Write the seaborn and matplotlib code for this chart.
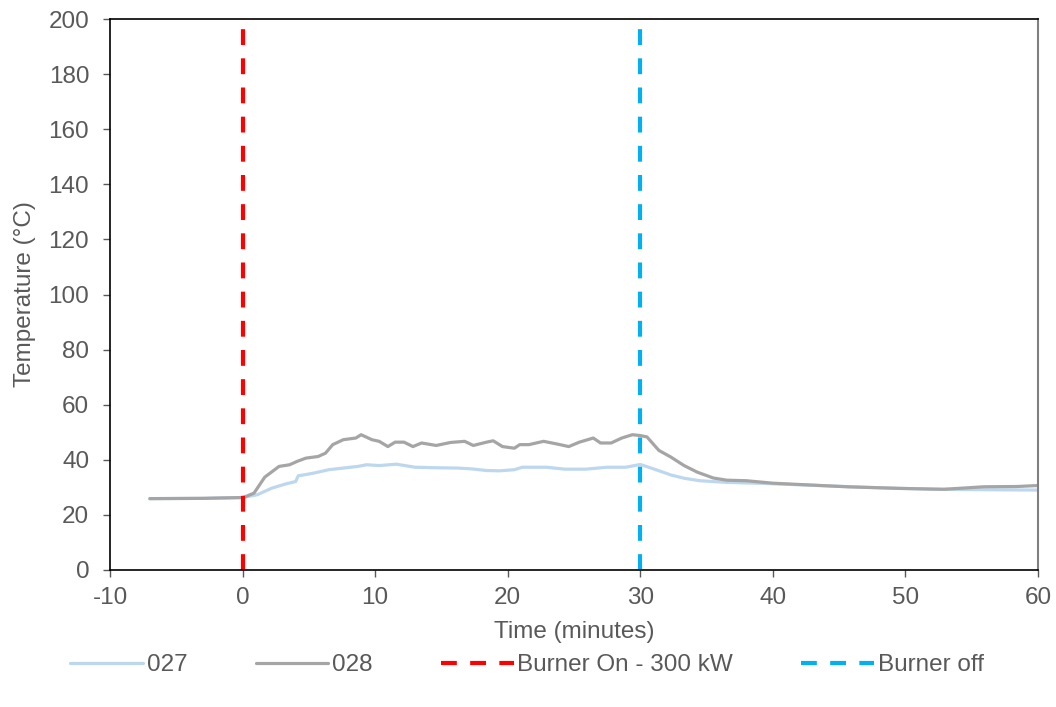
import pandas as pd
import seaborn as sns
import matplotlib.pyplot as plt

# --- data ---
t_027 = [-7, -3, 0, 1.1, 2.2, 3.3, 4.0, 4.2, 4.6, 5.4, 6.5, 7.6, 8.7, 9.35, 10.3,
         11.6, 13, 14.6, 16.2, 17.3, 18.4, 19.4, 20.5, 21.1, 22.9, 24.3, 25.9,
         27.5, 28.9, 30, 31, 32.3, 33.3, 34.5, 36.5, 39.5, 42.6, 47.1, 52.1,
         57.1, 60.2]
temp_027 = [25.9, 26.0, 26.3, 27.3, 29.7, 31.3, 32.1, 34.2, 34.5, 35.2, 36.4, 37.0,
            37.6, 38.2, 37.9, 38.4, 37.3, 37.1, 37.0, 36.7, 36.1, 36.0, 36.4, 37.3,
            37.3, 36.6, 36.6, 37.3, 37.3, 38.3, 36.7, 34.5, 33.3, 32.4, 31.8, 31.4,
            30.8, 30.0, 29.3, 29.1, 29.0]

t_028 = [-7, -3, 0.05, 0.86, 1.67, 2.75, 3.55, 4.1, 4.77, 5.7, 6.25, 6.8, 7.6,
         8.54, 8.94, 9.75, 10.3, 10.96, 11.5, 12.17, 12.85, 13.5, 14.6, 15.7,
         16.75, 17.4, 18.4, 18.9, 19.6, 20.5, 20.9, 21.6, 22.7, 23.75, 24.6,
         25.4, 26.45, 27, 27.8, 28.6, 29.4, 30, 30.5, 31.4, 32.3, 33.3, 34.3,
         35.5, 36.5, 38, 40, 42.6, 45.6, 49.6, 52.9, 54.6, 55.9, 58.4, 60.2]
temp_028 = [25.9, 26.0, 26.3, 27.9, 33.7, 37.6, 38.2, 39.4, 40.6, 41.2, 42.4, 45.5,
            47.3, 47.9, 49.1, 47.3, 46.7, 44.8, 46.4, 46.4, 44.8, 46.1, 45.2, 46.3,
            46.7, 45.2, 46.4, 46.9, 44.8, 44.2, 45.5, 45.5, 46.7, 45.7, 44.8, 46.4,
            47.9, 46.1, 46.1, 47.9, 49.1, 48.8, 48.3, 43.4, 41.0, 37.9, 35.5, 33.4,
            32.6, 32.4, 31.5, 30.9, 30.2, 29.6, 29.3, 29.8, 30.2, 30.3, 30.7]

burner_times = [0, 30]
burner_labels = ["Burner On - 300 kW", "Burner off"]
burner_colors = ["#FF0000", "#00B0F0"]

series_colors = {"027": "#BDD7EE", "028": "#A5A5A5"}

df = pd.concat([
    pd.DataFrame({"time": t_027, "temp": temp_027, "sensor": "027"}),
    pd.DataFrame({"time": t_028, "temp": temp_028, "sensor": "028"}),
])

# --- styling ---
sns.set_style("white")
plt.rcParams["font.family"] = ["Liberation Sans", "DejaVu Sans"]
plt.rcParams["axes.unicode_minus"] = False
txt = "#595959"
fs = 17.5

fig = plt.figure(figsize=(10.56, 7.07), dpi=100)
ax = fig.add_axes([0.1042, 0.1938, 0.8788, 0.7793])

sns.lineplot(data=df, x="time", y="temp", hue="sensor", palette=series_colors,
             estimator=None, sort=False, linewidth=2.3, ax=ax)

for t, lab, c in zip(burner_times, burner_labels, burner_colors):
    ax.axvline(t, color=c, linewidth=3, linestyle=(0, (3.8, 3.2)), label=lab)

ax.set_xlim(-10, 60)
ax.set_ylim(0, 200)
ax.set_xticks(range(-10, 61, 10))
ax.set_yticks(range(0, 201, 20))
ax.tick_params(axis="both", direction="out", length=5, width=1, color="#595959",
               labelsize=fs, labelcolor=txt, bottom=True, left=True)
ax.tick_params(axis="x", pad=7)
ax.tick_params(axis="y", pad=10)
for side in ["top", "bottom", "left"]:
    ax.spines[side].set_color("#000000")
    ax.spines[side].set_linewidth(1.2)
ax.spines["right"].set_color("#808080")
ax.spines["right"].set_linewidth(1.5)

ax.set_xlabel("Time (minutes)", fontsize=fs, color=txt, labelpad=9)
ax.set_ylabel("Temperature (°C)", fontsize=fs, color=txt, labelpad=9)

ax.legend(loc="center", bbox_to_anchor=(0.499, 0.059), bbox_transform=fig.transFigure,
          ncol=4, frameon=False, fontsize=fs, labelcolor=txt, handlelength=3.0,
          handletextpad=0.15, columnspacing=2.8)

fig.savefig("out.png", dpi=100)
